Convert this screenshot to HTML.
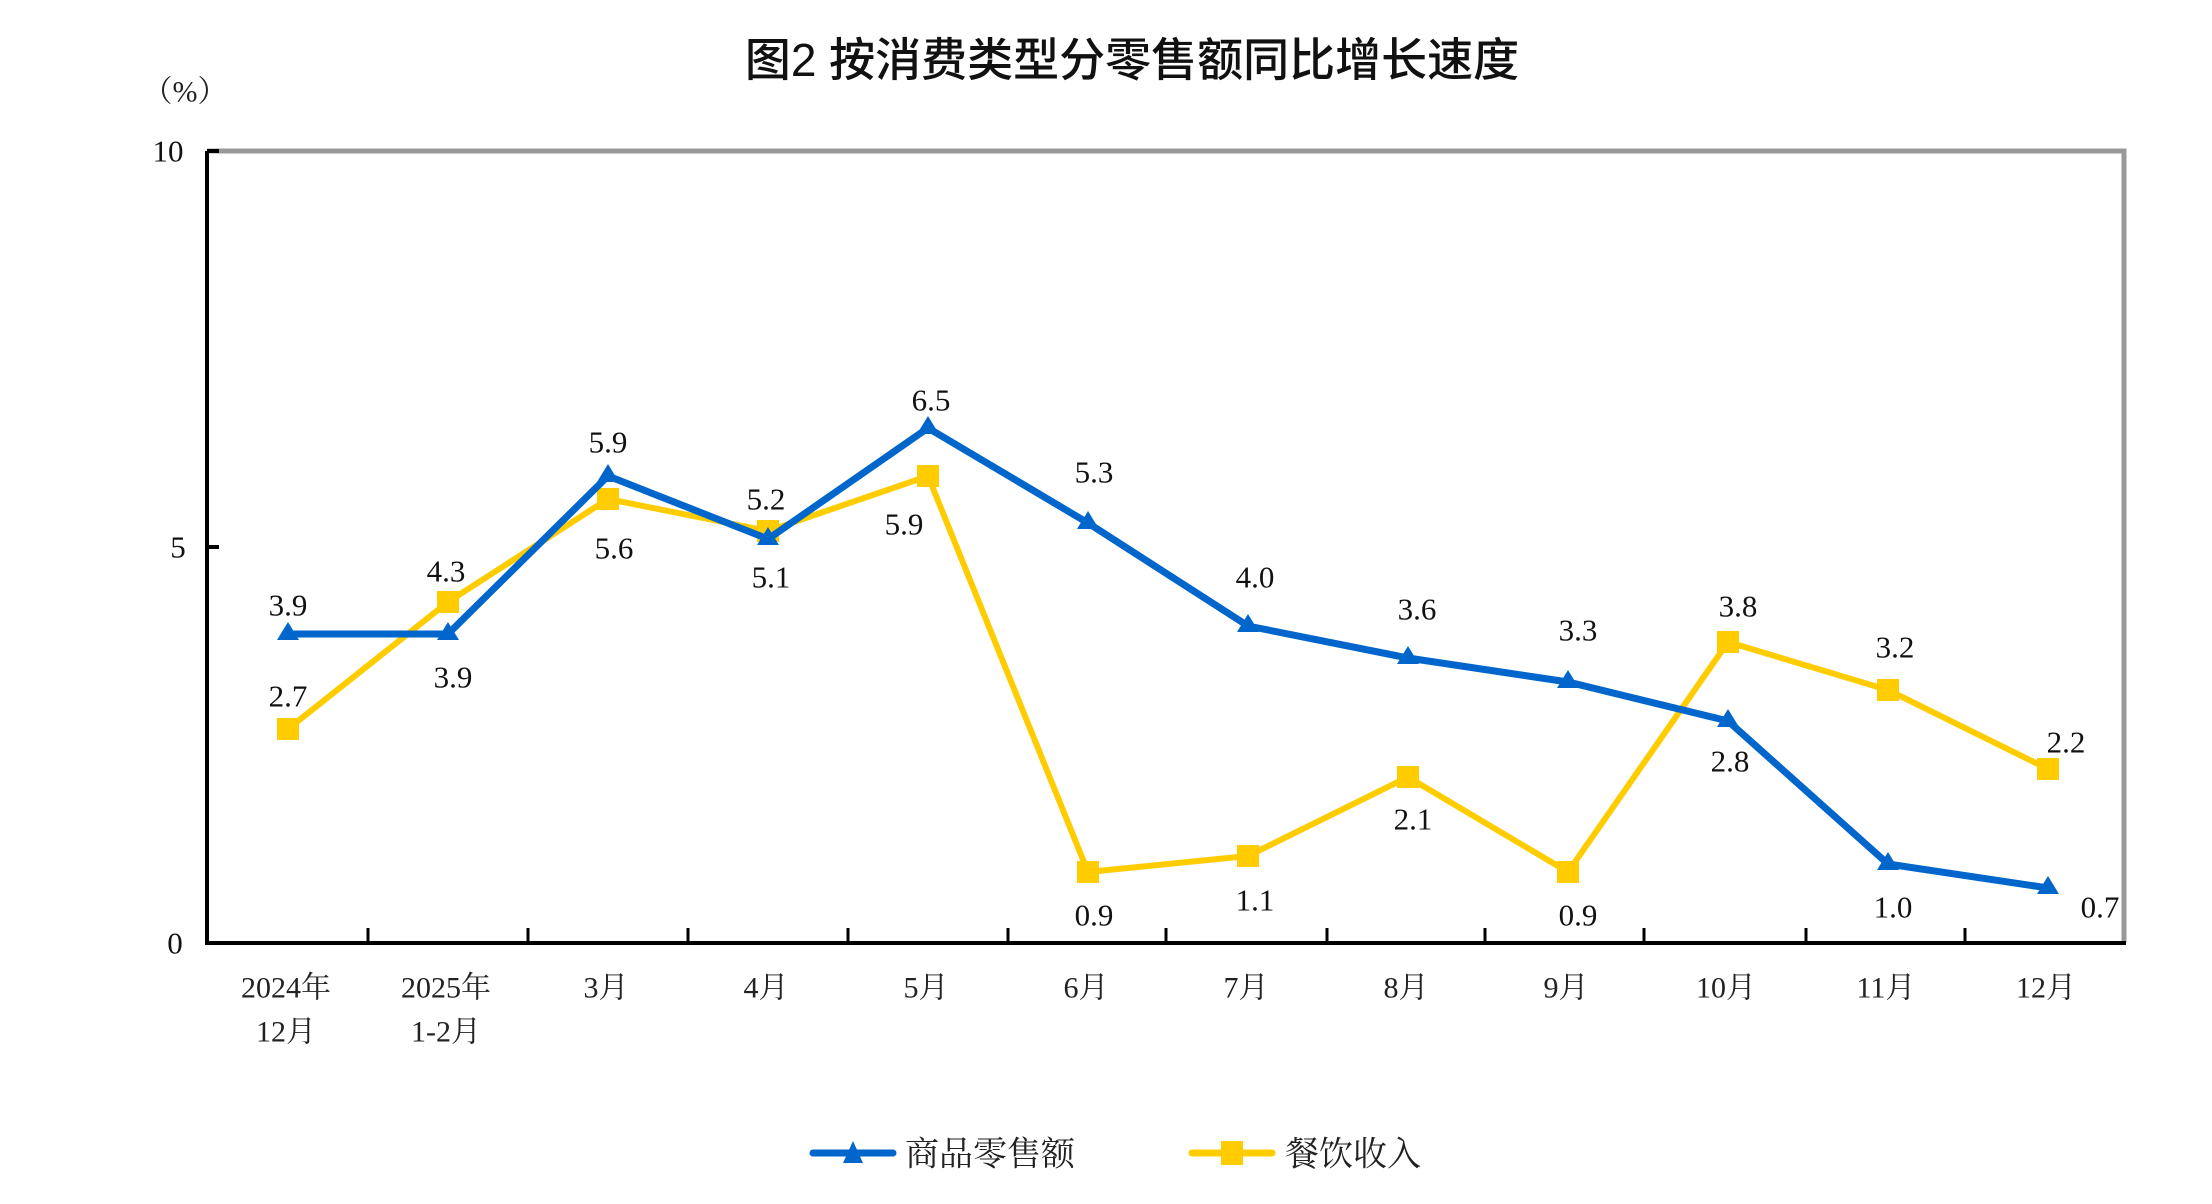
<!DOCTYPE html>
<html><head><meta charset="utf-8"><style>
html,body{margin:0;padding:0;background:#fff;}
svg{display:block;}
.n{font-family:"Liberation Serif","Noto Serif CJK SC",serif;font-size:31px;fill:#111;text-anchor:middle;dominant-baseline:central;}
.c{font-family:"Liberation Serif","Noto Serif CJK SC",serif;font-size:30px;fill:#222;text-anchor:middle;dominant-baseline:central;}
</style></head><body>
<svg width="2212" height="1204" viewBox="0 0 2212 1204" xmlns="http://www.w3.org/2000/svg">
<text x="1132" y="60" font-family="'Liberation Sans','Noto Sans CJK SC',sans-serif" font-size="46" font-weight="500" fill="#111" text-anchor="middle" dominant-baseline="central">图2  按消费类型分零售额同比增长速度</text>
<text x="185" y="92" class="c" font-size="30">（%）</text>
<polyline points="207,151 2124,151 2124,943" fill="none" stroke="#999" stroke-width="5"/>
<polyline points="207,151 207,943 2126,943" fill="none" stroke="#000" stroke-width="4"/>
<line x1="207" y1="151" x2="219" y2="151" stroke="#000" stroke-width="4"/>
<line x1="207" y1="547" x2="219" y2="547" stroke="#000" stroke-width="4"/>
<g stroke="#000" stroke-width="3">
<line x1="368" y1="943" x2="368" y2="928"/><line x1="528" y1="943" x2="528" y2="928"/><line x1="688" y1="943" x2="688" y2="928"/><line x1="848" y1="943" x2="848" y2="928"/><line x1="1008" y1="943" x2="1008" y2="928"/><line x1="1166" y1="943" x2="1166" y2="928"/><line x1="1327" y1="943" x2="1327" y2="928"/><line x1="1485" y1="943" x2="1485" y2="928"/><line x1="1644" y1="943" x2="1644" y2="928"/><line x1="1806" y1="943" x2="1806" y2="928"/><line x1="1965" y1="943" x2="1965" y2="928"/>
</g>
<text x="168" y="151" class="n" font-size="33">10</text>
<text x="178" y="547" class="n" font-size="33">5</text>
<text x="175" y="943" class="n" font-size="33">0</text>
<g class="c">
<text x="286" y="988" class="c">2024年</text><text x="286" y="1032" class="c">12月</text>
<text x="446" y="988" class="c">2025年</text><text x="446" y="1032" class="c">1-2月</text>
<text x="606" y="988" class="c">3月</text><text x="766" y="988" class="c">4月</text><text x="926" y="988" class="c">5月</text><text x="1086" y="988" class="c">6月</text><text x="1246" y="988" class="c">7月</text><text x="1406" y="988" class="c">8月</text><text x="1566" y="988" class="c">9月</text><text x="1726" y="988" class="c">10月</text><text x="1886" y="988" class="c">11月</text><text x="2046" y="988" class="c">12月</text>
</g>
<polyline fill="none" stroke="#ffcc00" stroke-width="6" stroke-linejoin="miter" points="288,729 448,602 608,499 768,531 928,476 1088,872 1248,856 1408,777 1568,872 1728,642 1888,690 2048,769"/>
<g fill="#ffcc00">
<rect x="277" y="718" width="22" height="22"/><rect x="437" y="591" width="22" height="22"/><rect x="597" y="488" width="22" height="22"/><rect x="757" y="520" width="22" height="22"/><rect x="917" y="465" width="22" height="22"/><rect x="1077" y="861" width="22" height="22"/><rect x="1237" y="845" width="22" height="22"/><rect x="1397" y="766" width="22" height="22"/><rect x="1557" y="861" width="22" height="22"/><rect x="1717" y="631" width="22" height="22"/><rect x="1877" y="679" width="22" height="22"/><rect x="2037" y="758" width="22" height="22"/>
</g>
<polyline fill="none" stroke="#0066cc" stroke-width="7" stroke-linejoin="miter" points="288,634 448,634 608,476 768,539 928,428 1088,523 1248,626 1408,658 1568,682 1728,721 1888,864 2048,888"/>
<g fill="#0066cc">
<polygon points="288,622 299,640 277,640"/><polygon points="448,622 459,640 437,640"/><polygon points="608,464 619,482 597,482"/><polygon points="768,527 779,545 757,545"/><polygon points="928,416 939,434 917,434"/><polygon points="1088,511 1099,529 1077,529"/><polygon points="1248,614 1259,632 1237,632"/><polygon points="1408,646 1419,664 1397,664"/><polygon points="1568,670 1579,688 1557,688"/><polygon points="1728,709 1739,727 1717,727"/><polygon points="1888,852 1899,870 1877,870"/><polygon points="2048,876 2059,894 2037,894"/>
</g>
<text x="288" y="605" class="n">3.9</text><text x="453" y="677" class="n">3.9</text><text x="608" y="442" class="n">5.9</text><text x="771" y="577" class="n">5.1</text><text x="931" y="400" class="n">6.5</text><text x="1094" y="472" class="n">5.3</text><text x="1255" y="577" class="n">4.0</text><text x="1417" y="609" class="n">3.6</text><text x="1578" y="630" class="n">3.3</text><text x="1730" y="761" class="n">2.8</text><text x="1893" y="907" class="n">1.0</text><text x="2100" y="907" class="n">0.7</text>
<text x="288" y="696" class="n">2.7</text><text x="446" y="571" class="n">4.3</text><text x="614" y="548" class="n">5.6</text><text x="766" y="499" class="n">5.2</text><text x="904" y="524" class="n">5.9</text><text x="1094" y="915" class="n">0.9</text><text x="1255" y="900" class="n">1.1</text><text x="1413" y="819" class="n">2.1</text><text x="1578" y="915" class="n">0.9</text><text x="1738" y="606" class="n">3.8</text><text x="1895" y="647" class="n">3.2</text><text x="2066" y="742" class="n">2.2</text>
<line x1="813" y1="1153" x2="893" y2="1153" stroke="#0066cc" stroke-width="7" stroke-linecap="round"/>
<polygon points="853,1141 863,1163 843,1163" fill="#0066cc"/>
<text x="905" y="1155" font-family="'Liberation Serif','Noto Serif CJK SC',serif" font-size="34" fill="#222" dominant-baseline="central">商品零售额</text>
<line x1="1192" y1="1153" x2="1272" y2="1153" stroke="#ffcc00" stroke-width="7" stroke-linecap="round"/>
<rect x="1221" y="1141" width="22" height="24" fill="#ffcc00"/>
<text x="1285" y="1155" font-family="'Liberation Serif','Noto Serif CJK SC',serif" font-size="34" fill="#222" dominant-baseline="central">餐饮收入</text>
</svg>
</body></html>
